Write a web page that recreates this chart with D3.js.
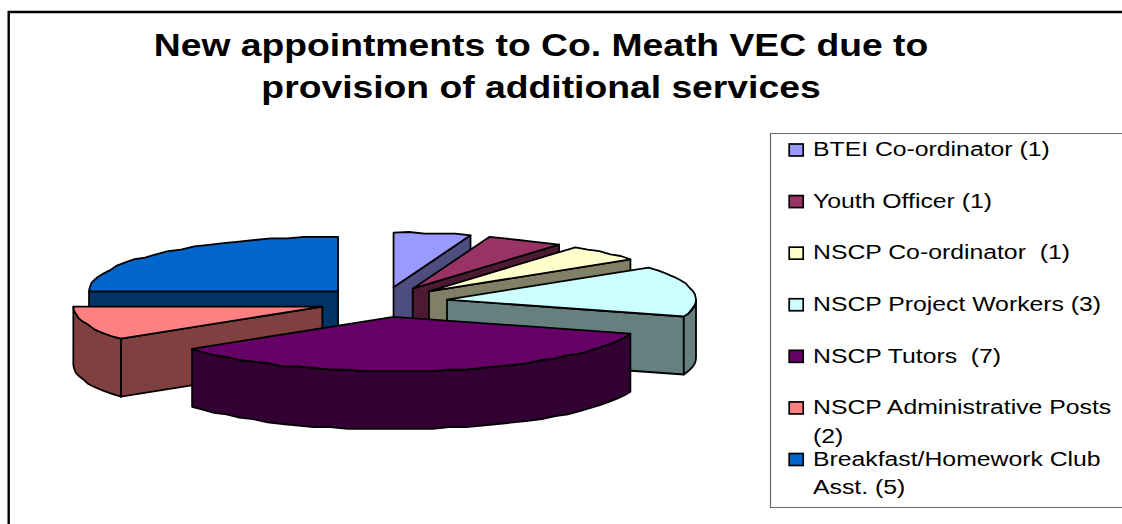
<!DOCTYPE html>
<html>
<head>
<meta charset="utf-8">
<style>
  html, body { margin: 0; padding: 0; background: #fff; }
  svg { display: block; }
  text { font-family: "Liberation Sans", Arial, sans-serif; fill: #000; white-space: pre; }
</style>
<script src="https://d3js.org/d3.v7.min.js"></script>
</head>
<body>
<div id="chart"></div>
<script>
var categories = ['BTEI Co-ordinator', 'Youth Officer', 'NSCP Co-ordinator', 'NSCP Project Workers',
                  'NSCP Tutors', 'NSCP Administrative Posts', 'Breakfast/Homework Club Asst.'];
var values = [1, 1, 1, 3, 7, 2, 5];
var colors = ['#9999ff', '#993366', '#ffffcc', '#ccffff', '#660066', '#ff8080', '#0066cc'];
var legendLines = [
  ['BTEI Co-ordinator (1)'],
  ['Youth Officer (1)'],
  ['NSCP Co-ordinator  (1)'],
  ['NSCP Project Workers (3)'],
  ['NSCP Tutors  (7)'],
  ['NSCP Administrative Posts', '(2)'],
  ['Breakfast/Homework Club', 'Asst. (5)']
];
var titleLines = ['New appointments to Co. Meath VEC due to', 'provision of additional services'];

(function() {
  var width = 1122, height = 524;

  var svg = d3.select("#chart")
        .append("svg")
        .attr("width", width)
        .attr("height", height);

  // chart frame, only top and left show up in the picture
  svg.append("path")
    .attr("d", d3.line()([[8.7, height], [8.7, 12], [width, 12]]))
    .attr("fill", "none")
    .attr("stroke", "#000")
    .attr("stroke-width", 2.4);

  // the original is a stretched bitmap, text is wider than the font
  svg.selectAll(".title")
    .data(titleLines)
    .enter().append("text")
    .attr("class", "title")
    .attr("transform", function(d, i) {
      return "translate(541," + (56 + i * 42) + ") scale(1.165,1)";
    })
    .attr("text-anchor", "middle")
    .attr("font-size", 32)
    .attr("font-weight", "bold")
    .text(function(d) { return d; });

  // tilted pie
  var cx = 383.5, cy = 302,
      rx = 249, ry = 54.5,
      depth = 58,
      explodeX = 64.3, explodeY = 15,
      wobble = 1.6;

  var slices = d3.pie().sort(null)(values).map(function(d, i) {
    d.color = colors[i];
    d.name = categories[i];
    d.mid = (d.startAngle + d.endAngle) / 2;
    d.ax = cx + explodeX * Math.sin(d.mid);
    d.ay = cy - explodeY * Math.cos(d.mid);
    return d;
  });

  function onRim(d, a, drop) {
    return [d.ax + rx * Math.sin(a), d.ay - ry * Math.cos(a) + drop];
  }

  // inner points snapped to a coarse grid, gives the rough edge of the original
  function rim(d, a0, a1, drop) {
    var n = Math.max(2, Math.ceil(Math.abs(a1 - a0) / 0.07));
    return d3.range(n + 1).map(function(i) {
      var p = onRim(d, a0 + (a1 - a0) * i / n, drop);
      if (i > 0 && i < n) {
        p[1] = Math.round(p[1] / wobble) * wobble;
      }
      return p;
    });
  }

  function darken(c) {
    var r = d3.rgb(c);
    return d3.rgb(r.r / 2, r.g / 2, r.b / 2).formatHex();
  }

  var line = d3.line();
  function closed(pts) { return line(pts) + "Z"; }

  function radialWall(d, a) {
    var p = onRim(d, a, 0), q = onRim(d, a, depth);
    return closed([[d.ax, d.ay], p, q, [d.ax, d.ay + depth]]);
  }

  // back slices first
  var order = slices.slice().sort(function(a, b) {
    return Math.cos(b.mid) - Math.cos(a.mid);
  });

  var g = svg.selectAll(".slice")
    .data(order)
    .enter().append("g")
    .attr("class", "slice")
    .attr("stroke", "#000")
    .attr("stroke-width", 1.8)
    .attr("stroke-linejoin", "round");

  g.each(function(d) {
    var el = d3.select(this);
    var wall = darken(d.color);

    if (d.startAngle > Math.PI) {
      el.append("path").attr("d", radialWall(d, d.startAngle)).attr("fill", wall);
    }
    if (d.endAngle < Math.PI) {
      el.append("path").attr("d", radialWall(d, d.endAngle)).attr("fill", wall);
    }

    // outer wall, only the part that faces us
    var a0 = Math.max(d.startAngle, Math.PI / 2),
        a1 = Math.min(d.endAngle, Math.PI * 1.5);
    if (a1 > a0) {
      var pts = rim(d, a0, a1, 0).concat(rim(d, a1, a0, depth));
      el.append("path").attr("d", closed(pts)).attr("fill", wall);
    }

    var top = [[d.ax, d.ay]].concat(rim(d, d.startAngle, d.endAngle, 0));
    el.append("path").attr("d", closed(top)).attr("fill", d.color);
  });

  // legend
  var legend = svg.append("g");

  legend.append("path")
    .attr("d", d3.line()([[width, 133.5], [770.5, 133.5], [770.5, 507.5], [width, 507.5]]))
    .attr("fill", "none")
    .attr("stroke", "#666")
    .attr("stroke-width", 1.2);

  var legendY = d3.scalePoint()
    .domain(categories)
    .range([150, 459.5]);

  var row = legend.selectAll(".row")
    .data(categories)
    .enter().append("g")
    .attr("class", "row")
    .attr("transform", function(d) { return "translate(0," + legendY(d) + ")"; });

  row.append("rect")
    .attr("x", 789.2)
    .attr("y", -6)
    .attr("width", 14)
    .attr("height", 12)
    .attr("fill", function(d, i) { return colors[i]; })
    .attr("stroke", "#000")
    .attr("stroke-width", 1.7);

  row.each(function(d, i) {
    d3.select(this).selectAll("text")
      .data(legendLines[i])
      .enter().append("text")
      .attr("transform", function(t, j) {
        return "translate(813," + (6.3 + j * 28.6) + ") scale(1.18,1)";
      })
      .attr("font-size", 21)
      .text(function(t) { return t; });
  });
})();
</script>
</body>
</html>
